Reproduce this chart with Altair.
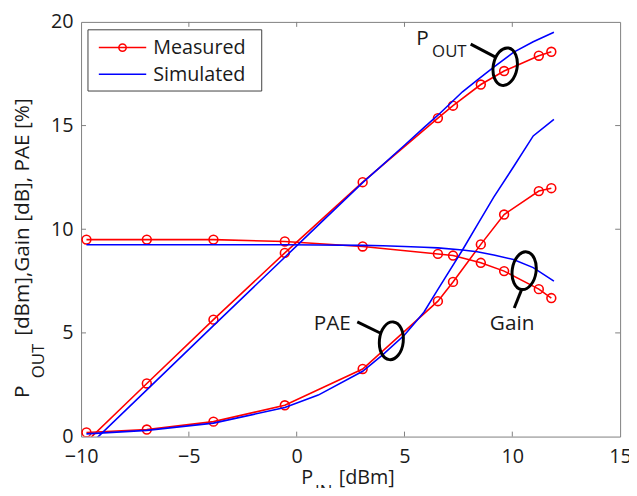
import altair as alt
import pandas as pd

# ---------------- data ----------------
meas_x = [-9.75, -6.95, -3.86, -0.55, 3.06, 6.55, 7.25, 8.54, 9.62, 11.23, 11.81]
meas_pout = [-0.25, 2.56, 5.64, 8.86, 12.27, 15.36, 15.96, 16.98, 17.63, 18.37, 18.56]
meas_gain = [9.5, 9.5, 9.5, 9.41, 9.17, 8.81, 8.73, 8.38, 7.98, 7.11, 6.68]
meas_pae = [0.2, 0.34, 0.72, 1.51, 3.26, 6.53, 7.46, 9.27, 10.71, 11.84, 11.98]

sim_x = [-9.75, -6.95, -3.86, -0.55, 1.0, 3.06, 4.0, 5.0, 5.9, 6.55, 7.69, 8.37, 9.14, 10.05, 10.97, 11.93]
sim_pout = [-0.55, 2.25, 5.35, 8.65, 10.2, 12.25, 13.12, 14.05, 14.9, 15.5, 16.63, 17.19, 17.82, 18.53, 19.04, 19.5]
sim_gain = [9.25, 9.25, 9.25, 9.25, 9.24, 9.22, 9.2, 9.17, 9.13, 9.1, 9.0, 8.91, 8.76, 8.54, 8.15, 7.5]
sim_pae = [0.13, 0.3, 0.65, 1.4, 2.0, 3.15, 3.95, 4.9, 6.0, 7.1, 9.0, 10.2, 11.55, 13.0, 14.5, 15.3]

x_ticks = [-10, -5, 0, 5, 10, 15]
y_ticks = [0, 5, 10, 15, 20]
series_names = ["Measured", "Simulated"]

# annotations (data coordinates)
ann_labels = ["P", "PAE", "Gain"]
ann_label_x = [5.84, 1.65, 9.99]
ann_label_y = [18.87, 5.12, 5.12]
ann_sub_text = ["OUT"]
ann_sub_x = [6.28]
ann_sub_y = [18.30]
ell_x = [9.67, 4.39, 10.55]
ell_y = [17.84, 4.62, 8.0]
ell_angle = [10, 6, 8]
lead_x = [8.07, 2.81, 10.44]
lead_y = [18.93, 5.53, 7.11]
lead_x2 = [9.22, 3.92, 10.09]
lead_y2 = [18.30, 4.97, 6.20]

# ---------------- tables ----------------
rows = []
for name, ys in [("Pout", meas_pout), ("Gain", meas_gain), ("PAE", meas_pae)]:
    for xv, yv in zip(meas_x, ys):
        rows.append({"x": xv, "y": yv, "curve": "M-" + name, "series": "Measured"})
meas_df = pd.DataFrame(rows)
rows = []
for name, ys in [("Pout", sim_pout), ("Gain", sim_gain), ("PAE", sim_pae)]:
    for xv, yv in zip(sim_x, ys):
        rows.append({"x": xv, "y": yv, "curve": "S-" + name, "series": "Simulated"})
sim_df = pd.DataFrame(rows)

FONT = "Open Sans"
W, H = 546, 420
GRAY = "#7f7f7f"
INK = "#1a1a1a"

xscale = alt.Scale(domain=[x_ticks[0], x_ticks[-1]], nice=False, zero=False)
yscale = alt.Scale(domain=[y_ticks[0], y_ticks[-1]], nice=False, zero=False)
cscale = alt.Scale(domain=series_names, range=["#ff0000", "#0000ff"])

xaxis = alt.Axis(values=x_ticks, title=None, ticks=False, domain=False, grid=False,
                 labelFontSize=20, labelColor=INK, labelPadding=10,
                 labelFlush=False, labelOverlap=False, format="d")
yaxis = alt.Axis(values=y_ticks, title=None, ticks=False, domain=False, grid=False,
                 labelFontSize=20, labelColor=INK, labelPadding=8,
                 labelOverlap=False, format="d")

X = alt.X("x:Q", scale=xscale, axis=xaxis)
Y = alt.Y("y:Q", scale=yscale, axis=yaxis)
C = alt.Color("series:N", scale=cscale, legend=None)

meas_lines = alt.Chart(meas_df).mark_line(clip=True, strokeWidth=1.6).encode(
    x=X, y=Y, color=C, detail="curve:N", order="x:Q")
meas_points = alt.Chart(meas_df).transform_filter("datum.y >= 0").mark_point(
    clip=True, filled=False, size=80, strokeWidth=1.6, opacity=1).encode(
    x=X, y=Y, color=C)
sim_lines = alt.Chart(sim_df).mark_line(clip=True, strokeWidth=1.6).encode(
    x=X, y=Y, color=C, detail="curve:N", order="x:Q")

# inward ticks (MATLAB style box)
xt_df = pd.DataFrame({"x": x_ticks[1:-1]})
yt_df = pd.DataFrame({"y": y_ticks[1:-1]})
xt_bottom = alt.Chart(xt_df).mark_rule(color=GRAY).encode(x="x:Q", y=alt.value(H), y2=alt.value(H - 5))
xt_top = alt.Chart(xt_df).mark_rule(color=GRAY).encode(x="x:Q", y=alt.value(0), y2=alt.value(5))
yt_left = alt.Chart(yt_df).mark_rule(color=GRAY).encode(y="y:Q", x=alt.value(0), x2=alt.value(5))
yt_right = alt.Chart(yt_df).mark_rule(color=GRAY).encode(y="y:Q", x=alt.value(W), x2=alt.value(W - 5))

# annotations
ELLIPSE = "M0,-1 A0.63,1 0 1,1 0,1 A0.63,1 0 1,1 0,-1 Z"
ell_df = pd.DataFrame({"x": ell_x, "y": ell_y, "a": ell_angle})
ellipses = alt.Chart(ell_df).mark_point(shape=ELLIPSE, size=1475, filled=False, color="black",
                                        strokeWidth=3, opacity=1).encode(
    x="x:Q", y="y:Q", angle=alt.Angle("a:Q", scale=None))
lead_df = pd.DataFrame({"x": lead_x, "y": lead_y, "x2": lead_x2, "y2": lead_y2})
leaders = alt.Chart(lead_df).mark_rule(color="black", strokeWidth=3).encode(
    x="x:Q", y="y:Q", x2="x2:Q", y2="y2:Q")
lab_df = pd.DataFrame({"x": ann_label_x, "y": ann_label_y, "t": ann_labels})
labels = alt.Chart(lab_df).mark_text(fontSize=21, align="center", baseline="alphabetic",
                                     color=INK).encode(x="x:Q", y="y:Q", text="t:N")
sub_df = pd.DataFrame({"x": ann_sub_x, "y": ann_sub_y, "t": ann_sub_text})
subs = alt.Chart(sub_df).mark_text(fontSize=17, align="left", baseline="alphabetic",
                                   color=INK).encode(x="x:Q", y="y:Q", text="t:N")


def txt(t, px, py, size=20, angle=0, align="left"):
    return alt.Chart(pd.DataFrame({"t": [t]})).mark_text(
        fontSize=size, angle=angle, align=align, baseline="alphabetic", color=INK).encode(
        x=alt.value(px), y=alt.value(py), text="t:N")


# axis titles with subscripts
ytitle = [txt("P", -53, 381, 21, 270), txt("OUT", -38, 361, 17, 270),
          txt("[dBm],Gain [dB], PAE [%]", -53, 318, 21, 270)]
xtitle = [txt("P", 223, 468, 20), txt("IN", 237, 481, 17), txt("[dBm]", 261, 468, 20)]

# legend box
one = pd.DataFrame({"k": [0]})
leg_box = alt.Chart(one).mark_rect(fill="white", stroke="#404040", strokeWidth=1).encode(
    x=alt.value(7), x2=alt.value(183), y=alt.value(8), y2=alt.value(70))
leg_red = alt.Chart(one).mark_rule(color="#ff0000", strokeWidth=1.6).encode(
    x=alt.value(18), x2=alt.value(66), y=alt.value(26))
leg_circle = alt.Chart(one).mark_point(color="#ff0000", filled=False, size=55, strokeWidth=1.6,
                                       opacity=1).encode(x=alt.value(42), y=alt.value(26))
leg_blue = alt.Chart(one).mark_rule(color="#0000ff", strokeWidth=1.6).encode(
    x=alt.value(18), x2=alt.value(66), y=alt.value(53))
leg_t1 = txt(series_names[0], 73, 32.5, 20)
leg_t2 = txt(series_names[1], 73, 60, 20)

chart = alt.layer(
    meas_lines, meas_points, sim_lines,
    xt_bottom, xt_top, yt_left, yt_right,
    ellipses, leaders, labels, subs,
    *ytitle, *xtitle,
    leg_box, leg_red, leg_circle, leg_blue, leg_t1, leg_t2,
).properties(
    width=W, height=H,
    autosize=alt.AutoSizeParams(type="none"),
    padding={"left": 74, "top": 11, "right": 9, "bottom": 49},
).configure(font=FONT).configure_view(stroke=GRAY, strokeWidth=1)

chart.save("out.html", embed_options={"renderer": "svg", "actions": False})
